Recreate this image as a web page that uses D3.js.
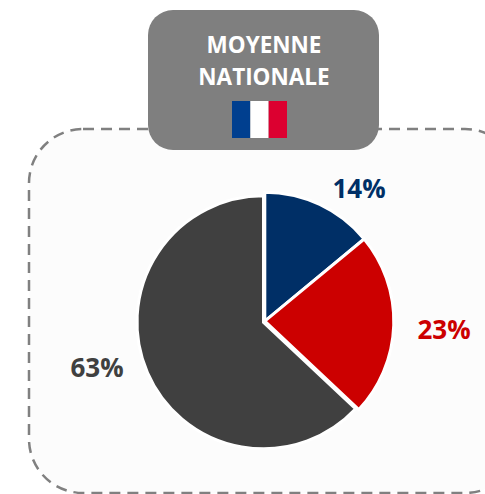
<!DOCTYPE html>
<html><head><meta charset="utf-8">
<script src="https://cdn.jsdelivr.net/npm/d3@7/dist/d3.min.js"></script>
<style>html,body{margin:0;padding:0;background:#fff}svg{display:block}text{font-family:"Open Sans","Liberation Sans",sans-serif}</style>
</head><body><svg id="c" width="485" height="494"></svg>
<script>
const categories=["Bleu","Rouge","Gris"];
const seriesValues=[14,23,63];
const sliceColors=["#002F66","#CC0000","#404040"];
const labelTexts=["14%","23%","63%"];
const titleLines=["MOYENNE","NATIONALE"];
const flagColors=["#003F8F","#FFFFFF","#DC0030"];

const svg=d3.select("#c");
svg.append("rect").attr("x",29).attr("y",129).attr("width",490).attr("height",364).attr("rx",54)
 .attr("fill","#fcfcfc").attr("stroke","#808080").attr("stroke-width",2.5).attr("stroke-dasharray","11 7");
svg.append("rect").attr("x",148).attr("y",10).attr("width",231).attr("height",140).attr("rx",25).attr("fill","#7f7f7f");
svg.selectAll("text.t").data(titleLines).join("text").attr("class","t")
 .attr("x",264).attr("y",(d,i)=>53+i*32).attr("text-anchor","middle")
 .attr("font-size",22.5).attr("font-weight",700).attr("fill","#fff").text(d=>d);
const fx=d3.scaleBand().domain(d3.range(flagColors.length)).range([232,287]);
svg.selectAll("rect.f").data(flagColors).join("rect").attr("class","f")
 .attr("x",(d,i)=>fx(i)).attr("width",fx.bandwidth()).attr("y",101).attr("height",37).attr("fill",d=>d);

const pie=d3.pie().sort(null)(seriesValues);
const arc=d3.arc().innerRadius(0);
// The large grey slice sits slightly inset and offset from the two coloured ones in the source.
svg.selectAll("path.s").data(pie).join("path").attr("class","s")
 .attr("transform",(d,i)=>i===2?"translate(263.5,322.3)":"translate(264.8,321.2)")
 .attr("d",(d,i)=>arc.outerRadius(i===2?126.5:129)(d))
 .attr("fill",(d,i)=>sliceColors[i]).attr("stroke","#fff").attr("stroke-width",3);
const lx=[359,444,97],ly=[198,339,377];
svg.selectAll("text.l").data(labelTexts).join("text").attr("class","l")
 .attr("x",(d,i)=>lx[i]).attr("y",(d,i)=>ly[i]).attr("text-anchor","middle")
 .attr("font-size",26).attr("font-weight",700).attr("fill",(d,i)=>sliceColors[i]).text(d=>d);
</script></body></html>
